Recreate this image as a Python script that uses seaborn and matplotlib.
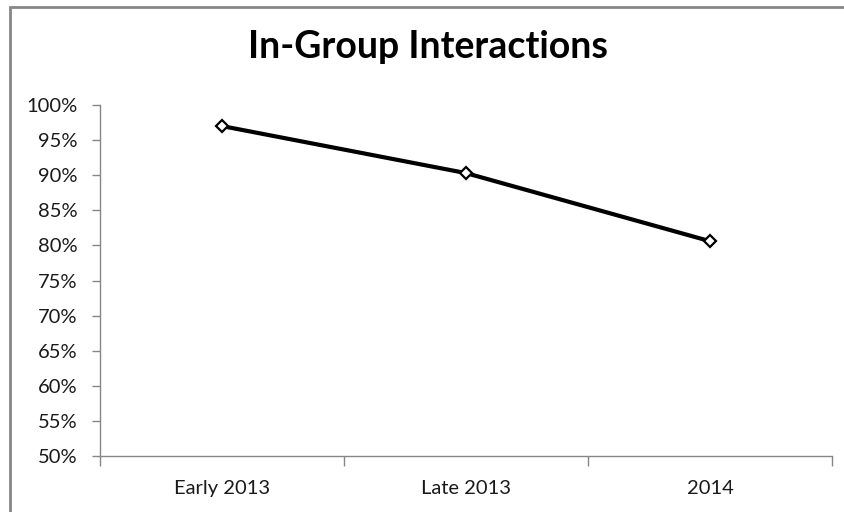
import matplotlib
matplotlib.use("Agg")
import matplotlib.pyplot as plt
import seaborn as sns
import pandas as pd
from matplotlib.patches import Rectangle
from matplotlib.ticker import FuncFormatter, FixedLocator

periods = ["Early 2013", "Late 2013", "2014"]
in_group_share = [0.970, 0.903, 0.806]
y_ticks = [0.50, 0.55, 0.60, 0.65, 0.70, 0.75, 0.80, 0.85, 0.90, 0.95, 1.00]

df = pd.DataFrame({"period": periods, "share": in_group_share, "pos": range(len(periods))})

sns.set_theme(style="white")
plt.rcParams["font.family"] = ["Lato", "DejaVu Sans"]

fig = plt.figure(figsize=(8.45, 5.12), dpi=100)
ax = fig.add_axes([100 / 845, 1 - 456 / 512, 732 / 845, 351 / 512])

sns.lineplot(data=df, x="pos", y="share", ax=ax, color="black", linewidth=3,
             marker="D", markersize=6.5, markerfacecolor="white",
             markeredgecolor="black", markeredgewidth=1.6)

ax.set_xlim(-0.5, len(periods) - 0.5)
ax.set_ylim(0.50, 1.00)
ax.yaxis.set_major_locator(FixedLocator(y_ticks))
ax.yaxis.set_major_formatter(FuncFormatter(lambda v, _: f"{v * 100:.0f}%"))
ax.set_xticks(range(len(periods)))
ax.set_xticklabels(periods)
ax.set_xticks([i - 0.5 for i in range(len(periods) + 1)], minor=True)

ax.set_xlabel("")
ax.set_ylabel("")
for side in ["top", "right"]:
    ax.spines[side].set_visible(False)
for side in ["left", "bottom"]:
    ax.spines[side].set_color("#868686")
    ax.spines[side].set_linewidth(1.0)

ax.tick_params(axis="y", which="major", direction="out", length=6, width=1,
               color="#868686", labelsize=14.5, labelcolor="#1a1a1a", pad=10, left=True)
ax.tick_params(axis="x", which="major", length=0, labelsize=14.5,
               labelcolor="#1a1a1a", pad=17, bottom=False)
ax.tick_params(axis="x", which="minor", direction="out", length=7, width=1,
               color="#868686", bottom=True)
ax.grid(False)

fig.text(428 / 845, 1 - 47 / 512, "In-Group Interactions", ha="center", va="center",
         fontsize=27, fontweight="bold", color="black")

# chart-area frame
fig.patches.append(Rectangle((10 / 845, -0.1), 2.0, (1 - 7 / 512) + 0.1,
                             transform=fig.transFigure, fill=False,
                             edgecolor="#868686", linewidth=2.0, figure=fig))

fig.savefig("out.png", dpi=100)
